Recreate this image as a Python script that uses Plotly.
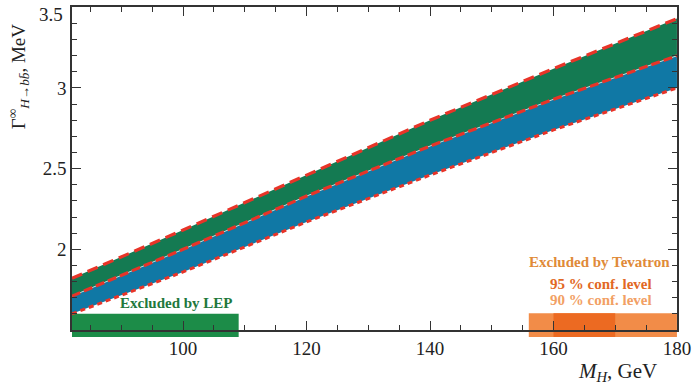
import plotly.graph_objects as go

# Data
m_h = [82, 100, 120, 140, 160, 180]
gamma_top = [1.82, 2.12, 2.46, 2.80, 3.12, 3.43]
gamma_mid = [1.71, 2.00, 2.33, 2.64, 2.93, 3.20]
gamma_bot = [1.60, 1.86, 2.17, 2.46, 2.74, 3.00]

lep_excluded = [82, 109]
tev_90 = [156, 180]
tev_95 = [160, 170]

x_ticks = [100, 120, 140, 160, 180]
y_ticks = [2, 2.5, 3, 3.5]
y_ticktext = ["2", "2.5", "3", ""]   # 3.5 is drawn as an annotation just below the top edge

GREEN = "rgb(20,122,82)"
BLUE = "rgb(16,120,165)"
RED = "rgb(232,52,40)"
SERIF = "Liberation Serif"

fig = go.Figure()
fig.add_trace(go.Scatter(x=m_h, y=gamma_bot, mode="lines", line=dict(width=0), showlegend=False, hoverinfo="skip"))
fig.add_trace(go.Scatter(x=m_h, y=gamma_mid, mode="lines", line=dict(width=0), fill="tonexty", fillcolor=BLUE, showlegend=False))
fig.add_trace(go.Scatter(x=m_h, y=gamma_top, mode="lines", line=dict(width=0), fill="tonexty", fillcolor=GREEN, showlegend=False))

fig.add_trace(go.Scatter(x=m_h, y=gamma_top, mode="lines", line=dict(color=RED, width=3.2, dash="11px,6px"), showlegend=False))
fig.add_trace(go.Scatter(x=m_h, y=gamma_mid, mode="lines", line=dict(color="rgba(230,230,230,0.8)", width=1), showlegend=False))
fig.add_trace(go.Scatter(x=m_h, y=gamma_mid, mode="lines", line=dict(color=RED, width=3.2, dash="9px,4px"), showlegend=False))
fig.add_trace(go.Scatter(x=m_h, y=gamma_bot, mode="lines", line=dict(color=RED, width=3, dash="5px,4px"), showlegend=False))

# exclusion bars
fig.add_shape(type="rect", xref="x", yref="paper", x0=lep_excluded[0], x1=lep_excluded[1], y0=-0.022, y1=0.050,
              fillcolor="rgb(28,140,72)", line=dict(width=0), layer="below")
fig.add_shape(type="rect", xref="x", yref="paper", x0=tev_90[0], x1=tev_90[1], y0=-0.022, y1=0.052,
              fillcolor="rgb(242,140,72)", line=dict(width=0), layer="below")
fig.add_shape(type="rect", xref="x", yref="paper", x0=tev_95[0], x1=tev_95[1], y0=-0.022, y1=0.052,
              fillcolor="rgb(236,106,34)", line=dict(width=0), layer="below")

fig.add_annotation(x=98.9, y=1.667, xref="x", yref="y", text="<b>Excluded by LEP</b>", showarrow=False,
                   font=dict(family=SERIF, size=15, color="rgb(34,120,60)"))
fig.add_annotation(x=167.5, y=1.92, xref="x", yref="y", text="<b>Excluded by Tevatron</b>", showarrow=False,
                   font=dict(family=SERIF, size=15, color="rgb(224,138,56)"))
fig.add_annotation(x=167.7, y=1.784, xref="x", yref="y", text="<b>95 % conf. level</b>", showarrow=False,
                   font=dict(family=SERIF, size=15, color="rgb(226,104,36)"))
fig.add_annotation(x=167.7, y=1.685, xref="x", yref="y", text="<b>90 % conf. level</b>", showarrow=False,
                   font=dict(family=SERIF, size=15, color="rgb(242,160,100)"))

# top y tick label
fig.add_annotation(x=0, y=y_ticks[-1], xref="paper", yref="y", xanchor="right", yanchor="middle",
                   xshift=-7, yshift=-7, text=str(y_ticks[-1]), showarrow=False,
                   font=dict(family=SERIF, size=19, color="#222"))

# axis titles
fig.add_annotation(x=0.970, y=-0.13, xref="paper", yref="paper", xanchor="right", yanchor="middle",
                   text="<i>M<sub>H</sub></i>, GeV", showarrow=False,
                   font=dict(family=SERIF, size=21, color="#222"))
fig.add_annotation(x=-0.088, y=0.785, xref="paper", yref="paper", xanchor="center", yanchor="middle",
                   textangle=-90, text="Γ<sup>∞</sup><sub><i>H</i>→<i>bb̄</i></sub>, MeV", showarrow=False,
                   font=dict(family=SERIF, size=19, color="#222"))

axis_common = dict(showline=True, linecolor="#333", linewidth=1.5, mirror="ticks", ticks="inside",
                   tickcolor="#333", tickwidth=1.3, ticklen=9, showgrid=False, zeroline=False,
                   tickfont=dict(family=SERIF, size=19, color="#222"))

fig.update_xaxes(range=[82, 180.01], tickmode="array", tickvals=x_ticks,
                 minor=dict(tickmode="linear", tick0=0, dtick=5, ticks="inside", ticklen=5, tickcolor="#333", tickwidth=1.3),
                 **axis_common)
fig.update_yaxes(range=[1.5, 3.502], tickmode="array", tickvals=y_ticks, ticktext=y_ticktext,
                 minor=dict(tickmode="linear", tick0=0, dtick=0.1, ticks="inside", ticklen=5, tickcolor="#333", tickwidth=1.3),
                 **axis_common)

fig.update_layout(width=696, height=387, margin=dict(l=72, r=18, t=5, b=57),
                  plot_bgcolor="white", paper_bgcolor="white", showlegend=False)

fig.write_html("out.html", config={"displayModeBar": False},
               post_script="document.body.style.margin='0';document.body.style.overflow='hidden';")
